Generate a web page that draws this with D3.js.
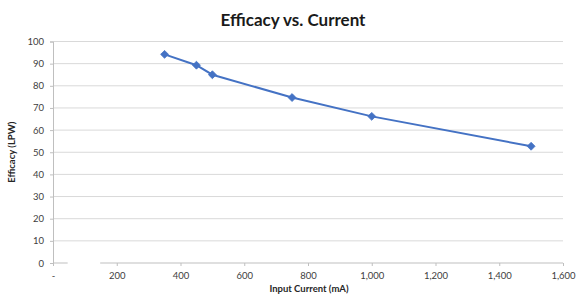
<!DOCTYPE html>
<html>
<head>
<meta charset="utf-8">
<script src="https://cdn.jsdelivr.net/npm/d3@7"></script>
<style>
  body { margin: 0; background: #fff; }
  text { font-family: Lato, "Open Sans", sans-serif; }
</style>
</head>
<body>
<div class="canvas"></div>
<script>
// data
const current = [350, 450, 500, 750, 1000, 1500];
const efficacy = [94.2, 89.3, 85.0, 74.7, 66.2, 52.7];
const xTicks = [0, 200, 400, 600, 800, 1000, 1200, 1400, 1600];
const yTicks = [0, 10, 20, 30, 40, 50, 60, 70, 80, 90, 100];

const width = 576, height = 296;
const margin = { top: 41.5, right: 13, bottom: 33, left: 53 };

// create svg
const svg = d3.select('.canvas')
  .append('svg')
    .attr('width', width)
    .attr('height', height);

const x = d3.scaleLinear()
  .domain([0, 1600])
  .range([margin.left, width - margin.right]);

const y = d3.scaleLinear()
  .domain([0, 100])
  .range([height - margin.bottom, margin.top]);

// horizontal gridlines
svg.append('g')
  .selectAll('line')
  .data(yTicks.filter(d => d > 0))
  .enter()
  .append('line')
    .attr('x1', x(0))
    .attr('x2', x(1600))
    .attr('y1', d => y(d))
    .attr('y2', d => y(d))
    .attr('stroke', '#d9d9d9')
    .attr('stroke-width', 1);

// y axis
const yAxis = svg.append('g')
  .attr('transform', `translate(${x(0)},0)`)
  .call(d3.axisLeft(y).tickValues(yTicks).tickSize(3).tickPadding(6));
yAxis.select('.domain').attr('stroke', '#bfbfbf');
yAxis.selectAll('.tick line').attr('stroke', '#bfbfbf');
yAxis.selectAll('.tick text')
  .attr('fill', '#404040')
  .attr('font-size', '9.5px')
  .style('font-family', 'Lato, sans-serif');

// x axis
const fmt = d3.format(',');
const xAxis = svg.append('g')
  .attr('transform', `translate(0,${y(0)})`)
  .call(d3.axisBottom(x).tickValues(xTicks).tickSize(3).tickPadding(6)
    .tickFormat(d => d === 0 ? '-' : fmt(d)));
xAxis.select('.domain').remove();
xAxis.selectAll('.tick line').attr('stroke', '#bfbfbf');
xAxis.selectAll('.tick text')
  .attr('fill', '#404040')
  .attr('font-size', '9.5px')
  .style('font-family', 'Lato, sans-serif');

// baseline, drawn in two pieces like the original
[[0, 46], [148, 1600]].forEach(seg => {
  svg.append('line')
    .attr('x1', x(seg[0]))
    .attr('x2', x(seg[1]))
    .attr('y1', y(0))
    .attr('y2', y(0))
    .attr('stroke', '#bfbfbf');
});

// the series line
const pts = current.map((c, i) => [c, efficacy[i]]);
svg.append('path')
  .datum(pts)
  .attr('fill', 'none')
  .attr('stroke', '#4472c4')
  .attr('stroke-width', 2)
  .attr('d', d3.line().x(d => x(d[0])).y(d => y(d[1])));

// diamond markers
svg.append('g')
  .selectAll('path')
  .data(pts)
  .enter()
  .append('path')
    .attr('transform', d => `translate(${x(d[0])},${y(d[1])})`)
    .attr('d', d3.symbol().type(d3.symbolDiamond2).size(40))
    .attr('fill', '#4472c4')
    .attr('stroke', '#4472c4')
    .attr('stroke-width', 0.8);

// title
svg.append('text')
  .attr('x', 293)
  .attr('y', 26)
  .attr('text-anchor', 'middle')
  .attr('font-size', '17px')
  .attr('font-weight', 'bold')
  .attr('fill', '#1a1a1a')
  .text('Efficacy vs. Current');

// axis titles
svg.append('text')
  .attr('x', 309)
  .attr('y', 292)
  .attr('text-anchor', 'middle')
  .attr('font-size', '9.5px')
  .attr('font-weight', 'bold')
  .attr('fill', '#262626')
  .text('Input Current (mA)');

svg.append('text')
  .attr('transform', `translate(15,${(y(0) + y(100)) / 2}) rotate(-90)`)
  .attr('text-anchor', 'middle')
  .attr('font-size', '9.5px')
  .attr('font-weight', 'bold')
  .attr('fill', '#262626')
  .text('Efficacy (LPW)');
</script>
</body>
</html>
